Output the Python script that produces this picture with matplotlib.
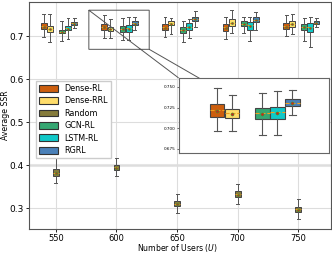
import numpy as np
import matplotlib
matplotlib.use("Agg")
from matplotlib import pyplot as plt
from matplotlib.patches import Patch

users = [550, 600, 650, 700, 750]
methods = ["Dense-RL", "Dense-RRL", "Random", "GCN-RL", "LSTM-RL", "RGRL"]
colors = ["#cc5e0e", "#fedc6a", "#857b3b", "#35a772", "#10c8c8", "#4a80b8"]
offsets = [-10, -5, 0, 5, 10, 15]

# per method, per U: [whislo, q1, med, q3, whishi]
dense_rl = [[0.699, 0.718, 0.724, 0.731, 0.752],
            [0.696, 0.714, 0.722, 0.729, 0.749],
            [0.698, 0.715, 0.721, 0.728, 0.745],
            [0.694, 0.713, 0.721, 0.728, 0.746],
            [0.700, 0.717, 0.724, 0.731, 0.749]]
dense_rrl = [[0.686, 0.711, 0.718, 0.725, 0.752],
             [0.696, 0.712, 0.718, 0.723, 0.740],
             [0.706, 0.727, 0.731, 0.736, 0.743],
             [0.707, 0.724, 0.732, 0.740, 0.761],
             [0.706, 0.722, 0.729, 0.736, 0.751]]
random_ = [[0.358, 0.376, 0.383, 0.391, 0.417],
           [0.375, 0.390, 0.396, 0.400, 0.417],
           [0.290, 0.305, 0.311, 0.317, 0.333],
           [0.311, 0.327, 0.333, 0.340, 0.356],
           [0.275, 0.292, 0.298, 0.304, 0.321]]
gcn_rl = [[0.689, 0.707, 0.711, 0.716, 0.735],
          [0.692, 0.711, 0.718, 0.725, 0.743],
          [0.687, 0.709, 0.715, 0.721, 0.736],
          [0.709, 0.724, 0.730, 0.736, 0.746],
          [0.689, 0.716, 0.722, 0.728, 0.743]]
lstm_rl = [[0.693, 0.714, 0.719, 0.725, 0.743],
           [0.692, 0.711, 0.719, 0.726, 0.745],
           [0.696, 0.716, 0.722, 0.731, 0.741],
           [0.689, 0.716, 0.726, 0.734, 0.745],
           [0.675, 0.711, 0.721, 0.731, 0.746]]
rgrl = [[0.720, 0.727, 0.731, 0.734, 0.743],
        [0.716, 0.727, 0.731, 0.735, 0.746],
        [0.722, 0.736, 0.741, 0.745, 0.758],
        [0.715, 0.734, 0.739, 0.745, 0.756],
        [0.722, 0.728, 0.732, 0.736, 0.743]]
all_data = [dense_rl, dense_rrl, random_, gcn_rl, lstm_rl, rgrl]


def draw(ax, lw=0.7, ms=1.5, cap=0.5):
    for data, col, off in zip(all_data, colors, offsets):
        stats = []
        for row in data:
            lo, q1, med, q3, hi = row
            stats.append(dict(whislo=lo, q1=q1, med=med, q3=q3, whishi=hi,
                              mean=med - 0.001, fliers=[]))
        ax.bxp(stats, positions=[u + off for u in users], widths=4.8,
               patch_artist=True, showmeans=True, manage_ticks=False,
               boxprops=dict(facecolor=col, edgecolor="#444444", linewidth=lw),
               whiskerprops=dict(color="#555555", linewidth=lw),
               capprops=dict(color="#555555", linewidth=lw),
               capwidths=cap * 4.8,
               medianprops=dict(color="#f0a020", linewidth=lw, linestyle="--"),
               meanprops=dict(marker="o", markerfacecolor="#d02020",
                              markeredgecolor="#30a030", markersize=ms,
                              markeredgewidth=0.4))


fig = plt.figure(figsize=(3.32, 2.54), dpi=100)
ax = fig.add_axes([0.088, 0.1, 0.909, 0.892])
ax.grid(True, color="#dddddd", linewidth=0.8, zorder=0)
ax.axhline(0.4, color="#e6e6e6", linewidth=2.2, zorder=0)
ax.set_axisbelow(True)
draw(ax)
ax.set_xlim(528, 777)
ax.set_ylim(0.253, 0.780)
ax.set_xticks(users)
ax.set_yticks([0.3, 0.4, 0.5, 0.6, 0.7])
ax.tick_params(axis="y", labelsize=6.5, length=2, width=0.6, pad=2)
ax.tick_params(axis="x", labelsize=6, length=2, width=0.6, pad=2)
for s in ax.spines.values():
    s.set_color("#555555")
    s.set_linewidth(0.8)
ax.set_xlabel("Number of Users ($U$)", fontsize=5.6)
ax.set_ylabel("Average SSR", fontsize=5.6)
ax.xaxis.set_label_coords(0.49, -0.058)
ax.yaxis.set_label_coords(-0.064, 0.5)

handles = [Patch(facecolor=c, edgecolor="#333333", linewidth=0.8) for c in colors]
ax.legend(handles, methods, loc="upper left", bbox_to_anchor=(0.008, 0.67),
          fontsize=5.8, frameon=True, edgecolor="#cccccc", framealpha=1,
          handlelength=2.4, handleheight=0.9, labelspacing=0.42,
          borderpad=0.4, handletextpad=0.8, fancybox=False)

axins = ax.inset_axes([0.495, 0.335, 0.497, 0.33])
draw(axins, lw=0.8, ms=2.2, cap=0.5)
axins.set_xlim(577.2, 627)
axins.set_ylim(0.670, 0.761)
axins.set_xticks([])
axins.set_yticks([0.675, 0.700, 0.725, 0.750])
axins.tick_params(labelsize=3, length=1.5, width=0.4, pad=1)
for s in axins.spines.values():
    s.set_color("#666666")
    s.set_linewidth(0.8)
ax.indicate_inset_zoom(axins, edgecolor="#555555", linewidth=0.7, alpha=1)

fig.savefig("out.png", dpi=100)
